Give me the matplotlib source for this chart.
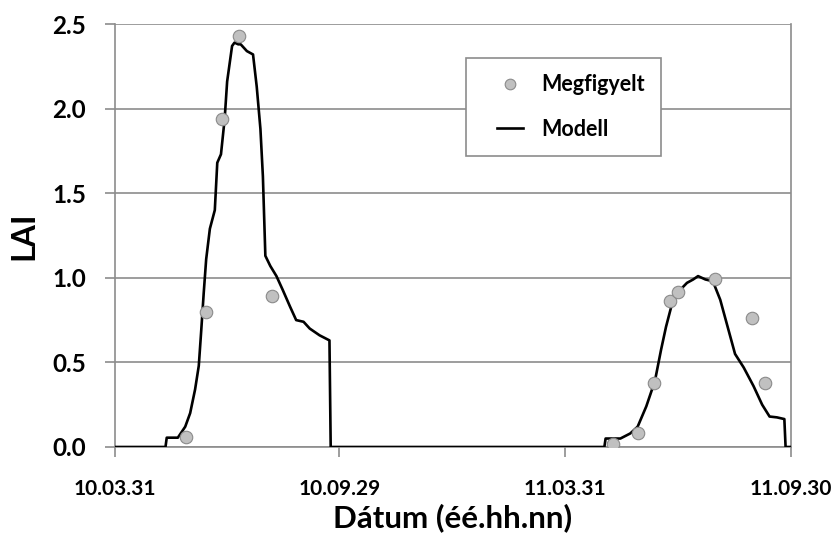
import numpy as np
import matplotlib.pyplot as plt
from matplotlib.legend_handler import HandlerLine2D

START = np.datetime64("2010-03-31")

# modelled LAI, days since 2010-03-31
model_day = [0, 41, 42, 51, 57, 61, 65, 68, 70, 72, 74, 77, 81, 83, 86, 89, 91, 95, 97, 100,
             102, 107, 112, 115, 118, 120, 122, 126, 131, 136, 142, 147, 153, 158, 166, 174, 175,
             397, 398, 410, 418, 424, 431, 438, 443, 447, 452, 456, 464, 469, 473, 479, 485,
             491, 497, 503, 510, 518, 525, 531, 537, 543, 544, 548]
model_lai = [0.0, 0.0, 0.055, 0.055, 0.12, 0.20, 0.34, 0.48, 0.69, 0.91, 1.11, 1.29, 1.40, 1.68,
             1.73, 1.94, 2.16, 2.37, 2.39, 2.38, 2.38, 2.34, 2.32, 2.13, 1.88, 1.60, 1.13, 1.07,
             1.01, 0.93, 0.83, 0.75, 0.74, 0.70, 0.66, 0.63, 0.0,
             0.0, 0.05, 0.05, 0.08, 0.12, 0.24, 0.39, 0.575, 0.71, 0.85, 0.91, 0.97, 0.99, 1.01,
             0.99, 0.98, 0.87, 0.71, 0.55, 0.47, 0.36, 0.25, 0.18, 0.175, 0.165, 0.0, 0.0]

# observed LAI
obs_day = [58, 74, 87, 101, 127, 404, 424, 437, 450, 457, 487, 517, 527]
obs_lai = [0.057, 0.80, 1.94, 2.43, 0.89, 0.016, 0.085, 0.38, 0.86, 0.915, 0.99, 0.76, 0.38]

tick_dates = ["2010-03-31", "2010-09-29", "2011-03-31", "2011-09-30"]
tick_labels = ["10.03.31", "10.09.29", "11.03.31", "11.09.30"]
y_ticks = [0.0, 0.5, 1.0, 1.5, 2.0, 2.5]

GRAY = "#8c8c8c"

plt.rcParams["font.family"] = ["Lato", "DejaVu Sans"]
plt.rcParams["font.weight"] = "bold"

fig = plt.figure(figsize=(8.33, 5.42), dpi=100)
ax = fig.add_axes([0.138, 0.1753, 0.811, 0.7804])

model_x = START + np.array(model_day).astype("timedelta64[D]")
obs_x = START + np.array(obs_day).astype("timedelta64[D]")

ax.plot(model_x, model_lai, color="black", lw=1.9, label="Modell", zorder=3)
ax.plot(obs_x, obs_lai, ls="none", marker="o", ms=9, mfc="#c0c0c0", mec="#8a8a8a",
        mew=0.8, label="Megfigyelt", zorder=4)

ax.set_xlim(np.datetime64("2010-03-31"), np.datetime64("2011-09-30"))
ax.set_ylim(0, 2.5)
ax.set_xticks(np.array(tick_dates, dtype="datetime64[D]"))
ax.set_xticklabels(tick_labels, fontweight="bold")
ax.set_yticks(y_ticks)
ax.set_yticklabels([f"{v:.1f}" for v in y_ticks], fontweight="bold")
ax.tick_params(axis="both", length=7, color=GRAY, width=1.2)
ax.tick_params(axis="x", labelsize=15, pad=16)
ax.tick_params(axis="y", labelsize=17.5, pad=14)

ax.grid(axis="y", color=GRAY, lw=1.2)
ax.set_axisbelow(True)
for s in ax.spines.values():
    s.set_color(GRAY)
    s.set_linewidth(1.2)
ax.spines["top"].set_visible(False)

ax.set_ylabel("LAI", fontsize=23, fontweight="bold", labelpad=10)
ax.set_xlabel("Dátum (éé.hh.nn)", fontsize=22.5, fontweight="bold", labelpad=3)

handles, labels = ax.get_legend_handles_labels()
leg = ax.legend(handles[::-1], labels[::-1], loc="upper left",
                bbox_to_anchor=(0.5195, 0.9196), borderaxespad=0,
                prop={"size": 15.5, "weight": "bold"}, frameon=True, fancybox=False,
                borderpad=0.75, labelspacing=1.1, handlelength=1.9, handletextpad=0.85,
                markerscale=0.85,
                handler_map={h: HandlerLine2D(xpad=0.7) for h in handles})
leg.get_frame().set_edgecolor(GRAY)
leg.get_frame().set_linewidth(1.2)
leg.get_frame().set_alpha(1)

fig.savefig("out.png", dpi=100)
